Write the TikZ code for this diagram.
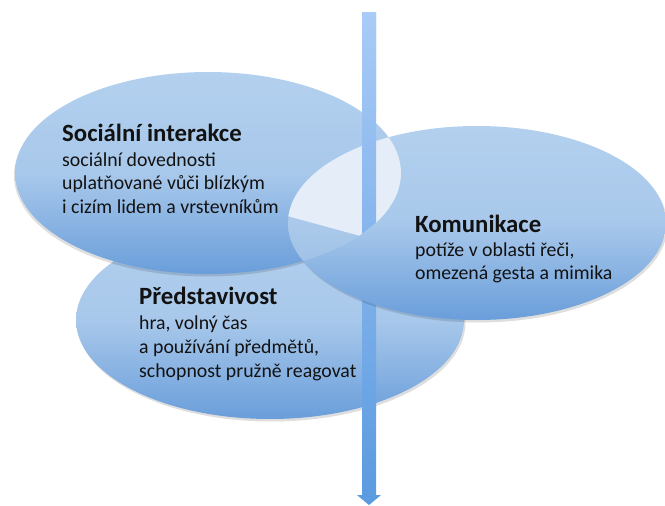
\documentclass[tikz,border=0pt]{standalone}
\usepackage{fontspec}
\setmainfont{Carlito}
\definecolor{elTop}{HTML}{B3D0EE}
\definecolor{elMid}{HTML}{A8C8EB}
\definecolor{elBot}{HTML}{6A9EDA}
\definecolor{arTop}{HTML}{A9CBF7}
\definecolor{arBot}{HTML}{5A9ADF}
\definecolor{lensHi}{HTML}{E5EEF8}
\definecolor{lensMid}{HTML}{ADCBEA}
\definecolor{txt}{HTML}{121212}
\tikzset{
  bubble/.style={top color=elTop, bottom color=elBot, middle color=elMid},
  shadowfill/.style={fill=black, fill opacity=0.13},
  arrowshade/.style={top color=arTop, bottom color=arBot},
  socE/.style={insert path={(208,173) ellipse [x radius=193pt, y radius=101pt]}},
  komE/.style={insert path={(477,223) ellipse [x radius=189pt, y radius=97pt]}},
  preE/.style={insert path={(270,320) ellipse [x radius=194pt, y radius=99pt]}},
  arrowP/.style={insert path={(362,12) -- (376,12) -- (376,495) -- (381,495) -- (369,505) -- (357,495) -- (362,495) -- cycle}},
  ttl/.style={anchor=base west, inner sep=0pt, text=txt, font=\fontsize{24.8}{28}\selectfont\bfseries},
  bdy/.style={anchor=base west, inner sep=0pt, text=txt, font=\fontsize{19.8}{23}\selectfont},
}
\begin{document}
\begin{tikzpicture}[x=1pt, y=-1pt]
\useasboundingbox (0,0) rectangle (665,506);
% Predstavivost
\path[shadowfill, shift={(1.5,2.5)}, preE];
\path[bubble, preE];
% arrow (lower part visible)
\path[arrowshade, arrowP];
% Socialni interakce
\path[shadowfill, shift={(-1,2.5)}, socE];
\path[bubble, socE];
% Komunikace
\path[shadowfill, shift={(1.5,2.5)}, komE];
\path[bubble, komE];
% lens
\begin{scope}
  \clip[socE];
  \clip[komE];
  \fill[lensMid, fill opacity=0.6, komE];
  \fill[lensHi] (270,0) -- (430,0) -- (430,255) -- (280,214) -- cycle;
\end{scope}
% arrow (upper part visible)
\begin{scope}
  \clip (300,0) rectangle (440,110);
  \path[arrowshade, arrowP];
\end{scope}
\begin{scope}
  \clip[socE];
  \path[arrowshade, arrowP];
\end{scope}
% texts
\node[ttl] (t1) at (62,141) {Sociální interakce};
\node[bdy] (t1a) at (62,166) {sociální dovednosti};
\node[bdy] (t1b) at (62,189.5) {uplatňované vůči blízkým};
\node[bdy] (t1c) at (62,213) {i cizím lidem a vrstevníkům};
\node[ttl] (t2) at (415,232) {Komunikace};
\node[bdy] (t2a) at (415,256.5) {potíže v oblasti řeči,};
\node[bdy] (t2b) at (415,279.5) {omezená gesta a mimika};
\node[ttl] (t3) at (139,304) {Představivost};
\node[bdy] (t3a) at (139,329) {hra, volný čas};
\node[bdy] (t3b) at (139,353) {a používání předmětů,};
\node[bdy] (t3c) at (139,377) {schopnost pružně reagovat};
\end{tikzpicture}
\end{document}
